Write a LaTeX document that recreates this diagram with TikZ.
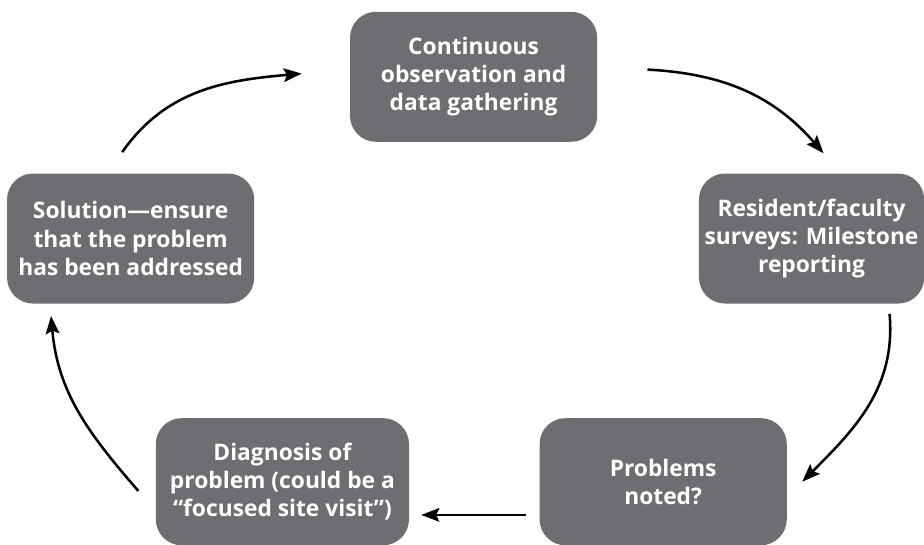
\documentclass[tikz,border=0pt]{standalone}
\usepackage{fontspec}
\setmainfont{Open Sans}
\usepackage{xcolor}
\usepackage{tikz}
\usetikzlibrary{shapes, arrows.meta, positioning}

\definecolor{boxgray}{HTML}{6D6E71}

\begin{document}
\begin{tikzpicture}[node distance=2cm, auto,
    stage/.style={rectangle, fill=boxgray, rounded corners=0.65cm, minimum width=6.18cm, minimum height=3.25cm, align=center, text=white, font=\bfseries\fontsize{16.2}{20}\selectfont},
    flow/.style={-{Stealth[length=0.45cm, width=0.34cm, inset=0.08cm]}, line width=1.8pt}]
    \useasboundingbox (0,0) rectangle (23.1,13.6);

    \node [stage] (observe) at (11.84,11.68) {Continuous\\observation and\\data gathering};
    \node [stage, below right=0.78cm and 2.53cm of observe, minimum width=5.63cm] (survey) {Resident/faculty\\surveys: Milestone\\reporting};
    \node [stage, below left=0.78cm and 2.38cm of observe] (solution) {Solution—ensure\\that the problem\\has been addressed};

    \node [stage, below=2.85cm of survey, xshift=-3.71cm, minimum height=3.18cm] (noted) {Problems\\noted?};
    \node [stage, left=3.25cm of noted, minimum width=6.33cm, minimum height=3.18cm] (diagnose) {Diagnosis of\\problem (could be a\\“focused site visit”)};

    \draw [flow] ([xshift=-0.21cm, yshift=0.53cm]solution.north) to[out=55, in=185] ([xshift=-1.2cm, yshift=0.08cm]observe.west);
    \draw [flow] ([xshift=1.25cm, yshift=0.18cm]observe.east) to[out=-3, in=131] ([xshift=0.3cm, yshift=0.5cm]survey.north);
    \draw [flow] ([xshift=1.95cm, yshift=-0.25cm]survey.south) to[out=-85, in=45] ([xshift=0.38cm]noted.east);
    \draw [flow] ([xshift=-0.33cm, yshift=-0.83cm]noted.west) -- ([xshift=0.3cm, yshift=-0.83cm]diagnose.east);
    \draw [flow] ([xshift=-0.43cm, yshift=-0.23cm]diagnose.west) to[out=131, in=275] ([xshift=-1.99cm, yshift=-0.3cm]solution.south);
\end{tikzpicture}
\end{document}
